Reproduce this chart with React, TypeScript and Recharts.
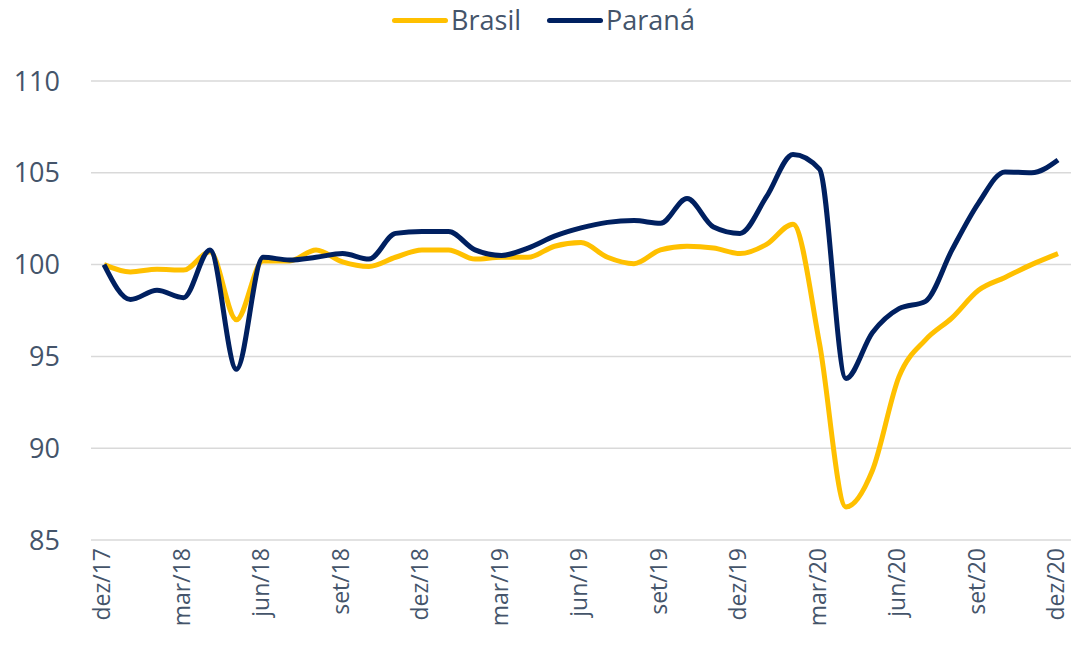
import { LineChart, Line, XAxis, YAxis, CartesianGrid, Legend } from "recharts";

const months = [
  "dez/17", "jan/18", "fev/18", "mar/18", "abr/18", "mai/18", "jun/18", "jul/18", "ago/18",
  "set/18", "out/18", "nov/18", "dez/18", "jan/19", "fev/19", "mar/19", "abr/19", "mai/19",
  "jun/19", "jul/19", "ago/19", "set/19", "out/19", "nov/19", "dez/19", "jan/20", "fev/20",
  "mar/20", "abr/20", "mai/20", "jun/20", "jul/20", "ago/20", "set/20", "out/20", "nov/20",
  "dez/20",
];

const brasil = [
  100.0, 99.6, 99.75, 99.7, 100.7, 97.0, 100.2, 100.2, 100.8, 100.15, 99.9, 100.4, 100.8,
  100.8, 100.3, 100.4, 100.4, 101.0, 101.2, 100.4, 100.05, 100.8, 101.0, 100.9, 100.6, 101.1,
  102.2, 95.7, 86.8, 88.8, 93.9, 95.9, 97.1, 98.6, 99.3, 100.0, 100.6,
];

const parana = [
  100.0, 98.1, 98.6, 98.2, 100.8, 94.3, 100.4, 100.25, 100.4, 100.6, 100.3, 101.7, 101.8,
  101.8, 100.8, 100.5, 100.9, 101.55, 102.0, 102.3, 102.4, 102.25, 103.6, 102.05, 101.7, 103.7,
  106.0, 105.2, 93.8, 96.3, 97.6, 98.0, 100.8, 103.35, 105.05, 105.0, 105.7,
];

const yTicks = [85, 90, 95, 100, 105, 110];

const data = months.map((m, i) => ({ month: m, Brasil: brasil[i], Paraná: parana[i] }));

const textColor = "#44546A";
const font = "'Open Sans', sans-serif";

function MonthTick(props: any) {
  const { x, y, payload } = props;
  // labels sit a touch left of the tick, like the original
  return (
    <text
      transform={`translate(${x - 3},${y}) rotate(-90)`}
      textAnchor="end"
      dominantBaseline="central"
      fill={textColor}
      fontFamily={font}
      fontSize={23}
    >
      {payload.value}
    </text>
  );
}

function LegendContent(props: any) {
  const items = props.payload || [];
  return (
    <div style={{ display: "flex", justifyContent: "center", gap: 26, paddingLeft: 16 }}>
      {items.map((it: any) => (
        <div key={it.value} style={{ display: "flex", alignItems: "center" }}>
          <span
            style={{
              display: "inline-block",
              width: 56,
              height: 5,
              borderRadius: 3,
              background: it.color,
              marginRight: 3,
            }}
          />
          <span style={{ fontFamily: font, fontSize: 27, color: textColor, lineHeight: "36px" }}>
            {it.value}
          </span>
        </div>
      ))}
    </div>
  );
}

export default function App() {
  return (
    <div style={{ position: "absolute", left: 0, top: 0, background: "#fff" }}>
      <LineChart width={1071} height={653} data={data} margin={{ top: 2, right: 0, bottom: 0, left: 0 }}>
        <CartesianGrid vertical={false} stroke="#d9d9d9" strokeWidth={1.5} />
        <XAxis
          dataKey="month"
          interval={2}
          padding={{ left: 13, right: 13 }}
          axisLine={false}
          tickLine={false}
          tickSize={0}
          tickMargin={8}
          height={113}
          tick={<MonthTick />}
        />
        <YAxis
          domain={[85, 110]}
          ticks={yTicks}
          width={91}
          axisLine={false}
          tickLine={false}
          tickSize={0}
          tickMargin={31}
          tick={{ fill: textColor, fontFamily: font, fontSize: 27 }}
        />
        <Legend verticalAlign="top" height={79} content={<LegendContent />} />
        <Line
          type="monotone"
          dataKey="Brasil"
          stroke="#FFC000"
          strokeWidth={5}
          dot={false}
          isAnimationActive={false}
        />
        <Line
          type="monotone"
          dataKey="Paraná"
          stroke="#002060"
          strokeWidth={5}
          dot={false}
          isAnimationActive={false}
        />
      </LineChart>
    </div>
  );
}
